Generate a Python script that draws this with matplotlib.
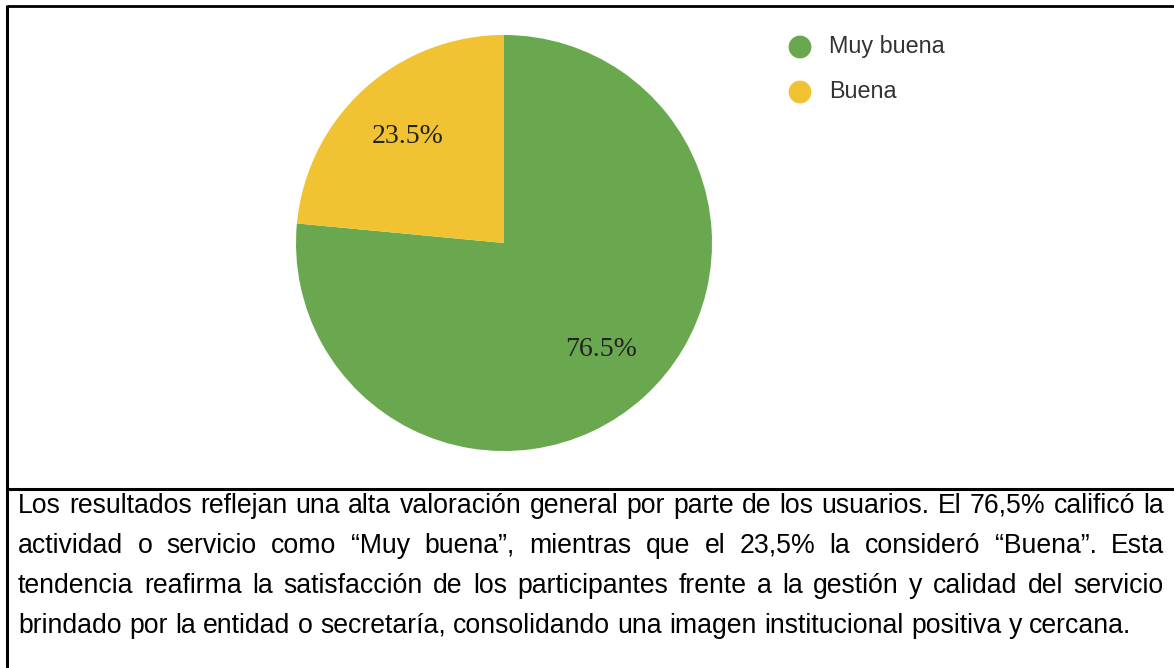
import matplotlib.pyplot as plt

categorias = ["Muy buena", "Buena"]
porcentajes = [76.5, 23.5]
colores = ["#6aa84f", "#f1c232"]

lineas = [
    "Los resultados reflejan una alta valoración general por parte de los usuarios. El 76,5% calificó la",
    "actividad o servicio como “Muy buena”, mientras que el 23,5% la consideró “Buena”. Esta",
    "tendencia reafirma la satisfacción de los participantes frente a la gestión y calidad del servicio",
    "brindado por la entidad o secretaría, consolidando una imagen institucional positiva y cercana.",
]

W, H = 1174, 668
fig = plt.figure(figsize=(W / 100, H / 100), dpi=100)

# fondo en coordenadas de pixel
bg = fig.add_axes([0, 0, 1, 1])
bg.set_xlim(0, W)
bg.set_ylim(H, 0)
bg.axis("off")

# marco de la tabla
bg.plot([6.5, W], [5.5, 5.5], color="#000000", lw=2.0, solid_capstyle="butt")
bg.plot([6.5, 6.5], [4.5, H], color="#000000", lw=2.2, solid_capstyle="butt")
bg.plot([6.5, W], [489, 489], color="#000000", lw=2.2, solid_capstyle="butt")

# torta
cx, cy, r = 504, 243, 208
ax = fig.add_axes([(cx - r) / W, (H - cy - r) / H, 2 * r / W, 2 * r / H])
ax.pie(porcentajes, colors=colores, startangle=90, counterclock=False,
       autopct="%.1f%%", pctdistance=0.69,
       textprops=dict(family="Liberation Serif", fontsize=20, color="#222222"))
ax.set_xlim(-1, 1)
ax.set_ylim(-1, 1)
ax.patch.set_alpha(0)

# leyenda
for i, (cat, col) in enumerate(zip(categorias, colores)):
    y = 47 + 45 * i
    bg.scatter([800], [y], s=270, color=col, edgecolors="none")
    bg.text(829, y, cat, family="Liberation Sans", fontsize=16.8, color="#333333",
            va="center", ha="left")

# párrafo justificado
renderer = fig.canvas.get_renderer()
izq, der = 18, 1164
fs = 19.2
espacio = bg.text(0, 0, "a a", family="Liberation Sans", fontsize=fs)
ancho_aa = espacio.get_window_extent(renderer).width
espacio.set_text("aa")
ancho_sp = ancho_aa - espacio.get_window_extent(renderer).width
espacio.remove()

for k, linea in enumerate(lineas):
    y = 513 + 40 * k
    palabras = linea.split(" ")
    textos = [bg.text(0, y, p, family="Liberation Sans", fontsize=fs,
                      color="#000000", va="baseline", ha="left") for p in palabras]
    anchos = [t.get_window_extent(renderer).width for t in textos]
    if k < len(lineas) - 1:
        hueco = (der - izq - sum(anchos)) / (len(palabras) - 1)
    else:
        hueco = ancho_sp
    x = izq
    for t, a in zip(textos, anchos):
        t.set_x(x)
        x += a + hueco

fig.savefig("out.png", dpi=100)
